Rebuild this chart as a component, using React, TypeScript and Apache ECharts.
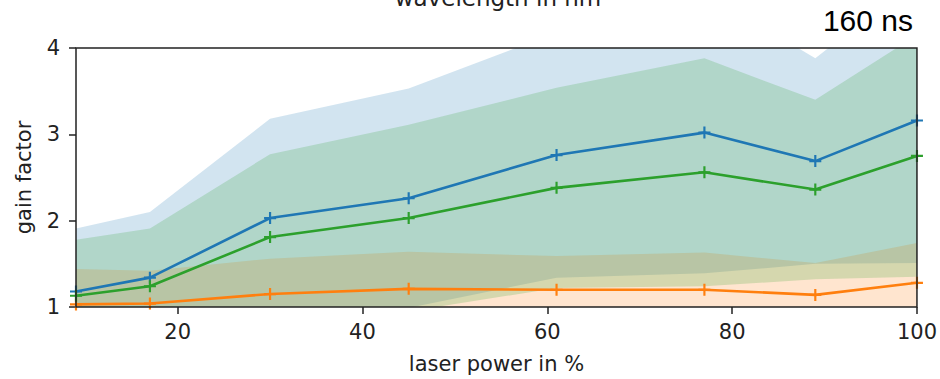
import React, { useEffect, useRef } from "react";
import * as echarts from "echarts";

// laser power settings (%)
const power = [9, 17, 30, 45, 61, 77, 89, 100];

// mean gain factor per power setting
const blueMean = [1.18, 1.34, 2.03, 2.26, 2.76, 3.02, 2.69, 3.16];
const orangeMean = [1.03, 1.04, 1.15, 1.21, 1.2, 1.2, 1.14, 1.28];
const greenMean = [1.13, 1.24, 1.81, 2.03, 2.38, 2.56, 2.36, 2.75];

// standard deviation of the gain factor
const blueStd = [0.73, 0.76, 1.15, 1.27, 1.42, 1.63, 1.19, 1.65];
const orangeStd = [0.41, 0.38, 0.41, 0.43, 0.39, 0.43, 0.37, 0.46];
const greenStd = [0.65, 0.67, 0.96, 1.08, 1.16, 1.32, 1.04, 1.4];

const xTicks = [20, 40, 60, 80, 100];

const BLUE = "#1f77b4";
const ORANGE = "#ff7f0e";
const GREEN = "#2ca02c";

const FONT = "DejaVu Sans";
const PLUS = "path://M4.1,0H5.9V4.1H10V5.9H5.9V10H4.1V5.9H0V4.1H4.1Z";

// mean ± std shaded band, drawn as one polygon through the axis scales
function band(name: string, mean: number[], std: number[], fill: string) {
  return {
    name: name + "-band",
    type: "custom",
    clip: true,
    silent: true,
    z: 1,
    data: power.map((p, i) => [p, mean[i] - std[i], mean[i] + std[i]]),
    encode: { x: 0, y: [1, 2] },
    renderItem: (params: any, api: any) => {
      if (params.dataIndex !== 0) return null;
      const upper = power.map((p, i) => api.coord([p, mean[i] + std[i]]));
      const lower = power.map((p, i) => api.coord([p, mean[i] - std[i]])).reverse();
      return {
        type: "polygon",
        shape: { points: upper.concat(lower) },
        style: { fill },
      };
    },
  };
}

function meanLine(name: string, mean: number[], color: string) {
  return {
    name,
    type: "line",
    data: mean.map((m, i) => [power[i], m]),
    symbol: PLUS,
    symbolSize: 12,
    showSymbol: true,
    itemStyle: { color },
    lineStyle: { color, width: 2.6 },
    z: 3,
  };
}

export default function App() {
  const ref = useRef<HTMLDivElement>(null);

  useEffect(() => {
    if (!ref.current) return;
    const chart = echarts.init(ref.current, null, { renderer: "svg" });
    chart.setOption({
      animation: false,
      backgroundColor: "#ffffff",
      grid: {
        left: 76,
        right: 20,
        top: 48,
        bottom: 70,
        show: true,
        borderColor: "#222",
        borderWidth: 1.5,
        backgroundColor: "transparent",
        z: 5,
      },
      xAxis: {
        type: "value",
        min: 9,
        max: 100,
        name: "laser power in %",
        nameLocation: "middle",
        nameGap: 46,
        nameTextStyle: { fontFamily: FONT, fontSize: 21, color: "#222" },
        axisLine: { show: false },
        splitLine: { show: false },
        axisTick: {
          show: true,
          length: 7,
          lineStyle: { color: "#222", width: 1.5 },
          customValues: xTicks,
        },
        axisLabel: {
          fontFamily: FONT,
          fontSize: 21,
          color: "#222",
          margin: 14,
          customValues: xTicks,
        },
      },
      yAxis: {
        type: "value",
        min: 1,
        max: 4,
        interval: 1,
        name: "gain factor",
        nameLocation: "middle",
        nameGap: 42,
        nameTextStyle: { fontFamily: FONT, fontSize: 21, color: "#222" },
        axisLine: { show: false },
        splitLine: { show: false },
        axisTick: { show: true, length: 7, lineStyle: { color: "#222", width: 1.5 } },
        axisLabel: { fontFamily: FONT, fontSize: 21, color: "#222", margin: 16 },
      },
      graphic: [
        {
          type: "text",
          x: 498,
          y: 9,
          style: {
            text: "wavelength in nm",
            fontFamily: FONT,
            fontSize: 23,
            fill: "#222",
            textAlign: "center",
            textVerticalAlign: "bottom",
          },
        },
        {
          type: "text",
          x: 913,
          y: 35,
          style: {
            text: "160 ns",
            fontFamily: "Liberation Sans",
            fontSize: 30,
            fill: "#000",
            textAlign: "right",
            textVerticalAlign: "bottom",
          },
        },
      ],
      series: [
        band("blue", blueMean, blueStd, "rgba(31,119,180,0.2)"),
        band("orange", orangeMean, orangeStd, "rgba(255,127,14,0.2)"),
        band("green", greenMean, greenStd, "rgba(44,160,44,0.2)"),
        meanLine("blue", blueMean, BLUE),
        meanLine("orange", orangeMean, ORANGE),
        meanLine("green", greenMean, GREEN),
      ],
    });
    return () => chart.dispose();
  }, []);

  return (
    <div
      ref={ref}
      style={{ position: "fixed", left: 0, top: 0, width: 940, height: 379 }}
    />
  );
}
